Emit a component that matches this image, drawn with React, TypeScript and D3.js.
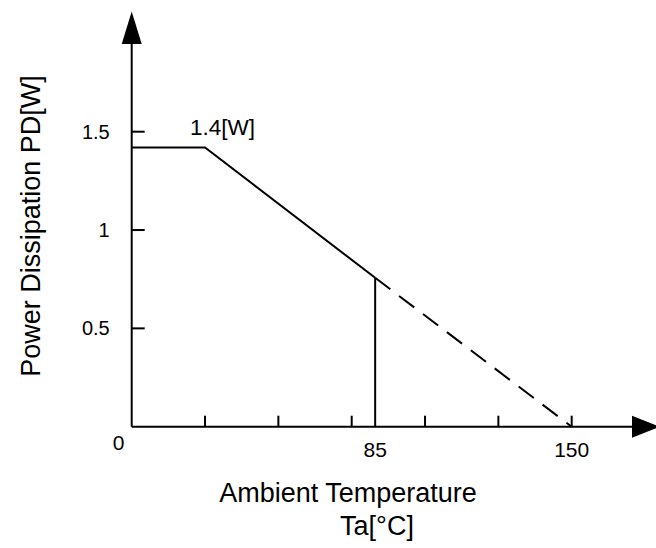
import React from 'react';
import * as d3 from 'd3';

// values
const solidTemps = [0, 25, 83];
const solidPower = [1.42, 1.42, 0.757];
const dashTemps = [83, 150];
const dashPower = [0.757, 0];
const markerTemp = 83; // drawn at the "85" label

const xMinorTicks = [25, 50, 75, 100, 125, 150];
const xTickValues = [0, 83, 150];
const xTickLabels = ['0', '85', '150'];
const yTickValues = [0.5, 1, 1.5];
const yTickLabels = ['0.5', '1', '1.5'];

const W = 656;
const H = 548;
const font = '"Liberation Sans", Arial, sans-serif';

export default function App() {
  const x = d3.scaleLinear().domain([0, 150]).range([131.7, 571.7]);
  const y = d3.scaleLinear().domain([0, 1.5]).range([426.7, 131.7]);
  const x0 = x(0);
  const y0 = y(0);

  const line = d3
    .line<[number, number]>()
    .x((d) => x(d[0]))
    .y((d) => y(d[1]));

  const solid = solidTemps.map((t, i) => [t, solidPower[i]] as [number, number]);
  const dashed = dashTemps.map((t, i) => [t, dashPower[i]] as [number, number]);
  const markerPower = solidPower[solidPower.length - 1];

  return (
    <svg
      width={W}
      height={H}
      style={{ position: 'absolute', left: 0, top: 0, background: '#fff' }}
      fontFamily={font}
    >
      {/* axes with arrows */}
      <line x1={x0} y1={y0} x2={x0} y2={43} stroke="#000" strokeWidth={2} />
      <path d={`M${x0},11.5 L${x0 - 10},44 L${x0 + 10},44 Z`} fill="#000" />
      <line x1={x0} y1={y0} x2={633} y2={y0} stroke="#000" strokeWidth={2} />
      <path d={`M660,${y0} L632,${y0 - 11} L632,${y0 + 11} Z`} fill="#000" />

      {/* ticks */}
      {xMinorTicks.map((t) => (
        <line key={'xt' + t} x1={x(t)} x2={x(t)} y1={y0} y2={y0 - 11} stroke="#000" strokeWidth={2} />
      ))}
      {yTickValues.map((v) => (
        <line key={'yt' + v} x1={x0} x2={x0 + 13} y1={y(v)} y2={y(v)} stroke="#000" strokeWidth={2} />
      ))}

      {/* tick labels */}
      {yTickValues.map((v, i) => (
        <text key={'yl' + v} x={x0 - 22} y={y(v)} dy="0.35em" textAnchor="end" fontSize={20}>
          {yTickLabels[i]}
        </text>
      ))}
      {xTickValues.map((v, i) => (
        <text
          key={'xl' + v}
          x={v === 0 ? x0 - 13 : x(v)}
          y={v === 0 ? y0 + 23 : y0 + 30}
          textAnchor="middle"
          fontSize={21}
        >
          {xTickLabels[i]}
        </text>
      ))}

      {/* derating curve */}
      <path d={line(solid) ?? ''} fill="none" stroke="#000" strokeWidth={2} />
      <path d={line(dashed) ?? ''} fill="none" stroke="#000" strokeWidth={2} strokeDasharray="19,11" />
      <line
        x1={x(markerTemp)}
        x2={x(markerTemp)}
        y1={y0}
        y2={y(markerPower)}
        stroke="#000"
        strokeWidth={2}
      />

      <text x={190} y={135} fontSize={22.5}>
        1.4[W]
      </text>

      {/* axis titles */}
      <text
        transform={`translate(40,226) rotate(-90)`}
        textAnchor="middle"
        fontSize={27}
      >
        Power Dissipation PD[W]
      </text>
      <text x={348} y={502} textAnchor="middle" fontSize={27}>
        Ambient Temperature
      </text>
      <text x={377} y={535} textAnchor="middle" fontSize={27}>
        Ta[°C]
      </text>
    </svg>
  );
}
